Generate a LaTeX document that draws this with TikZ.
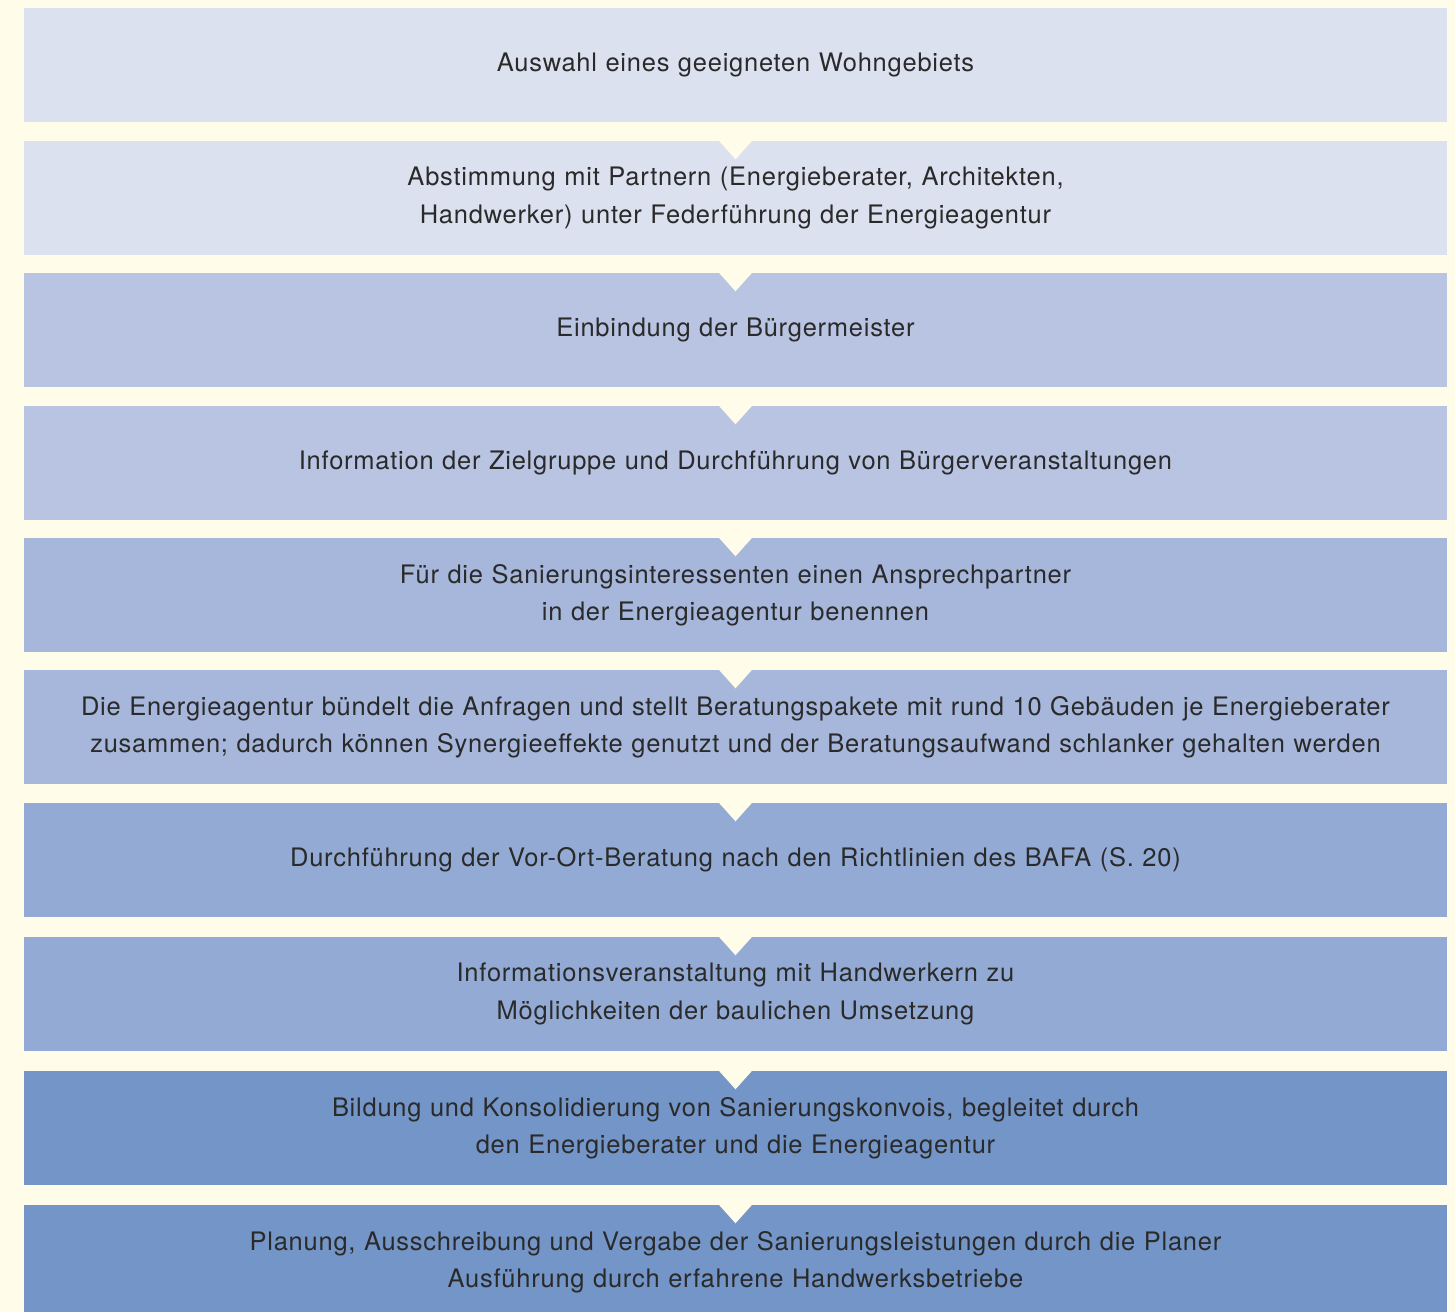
\documentclass[tikz,border=0pt]{standalone}
\usepackage{fontspec}
\setmainfont[LetterSpace=3]{TeX Gyre Heros}
\usetikzlibrary{calc}

\definecolor{bgcream}{HTML}{FFFCEA}
\definecolor{stepA}{HTML}{DCE1EF}
\definecolor{stepB}{HTML}{B8C4E2}
\definecolor{stepC}{HTML}{A6B7DB}
\definecolor{stepD}{HTML}{93ABD4}
\definecolor{stepE}{HTML}{7395C7}
\definecolor{txtgrey}{HTML}{2A2A2A}

\tikzset{
  stepbox/.style={rectangle, minimum width=14.23cm, minimum height=1.14cm,
    inner sep=0pt, text width=14cm, align=center, text=txtgrey,
    font=\fontsize{7.25pt}{10.6pt}\selectfont},
  notch/.style={fill=bgcream}
}

\begin{document}
\begin{tikzpicture}[x=0.1mm, y=-0.1mm]
    \useasboundingbox (0,0) rectangle (1455,1312);
    \fill[bgcream] (0,0) rectangle (1455,1312);
    \begin{scope}
    \clip (0,0) rectangle (1455,1312);
    \node[stepbox, fill=stepA] (b1) at (735.5,65) {Auswahl eines geeigneten Wohngebiets};
    \node[stepbox, fill=stepA] (b2) at (735.5,198) {Abstimmung mit Partnern (Energieberater, Architekten,\\ Handwerker) unter Federführung der Energieagentur};
    \node[stepbox, fill=stepB] (b3) at (735.5,330) {Einbindung der Bürgermeister};
    \node[stepbox, fill=stepB] (b4) at (735.5,463) {Information der Zielgruppe und Durchführung von Bürgerveranstaltungen};
    \node[stepbox, fill=stepC] (b5) at (735.5,595) {Für die Sanierungsinteressenten einen Ansprechpartner\\ in der Energieagentur benennen};
    \node[stepbox, fill=stepC] (b6) at (735.5,727) {Die Energieagentur bündelt die Anfragen und stellt Beratungspakete mit rund 10 Gebäuden je Energieberater\\ zusammen; dadurch können Synergieeffekte genutzt und der Beratungsaufwand schlanker gehalten werden};
    \node[stepbox, fill=stepD] (b7) at (735.5,860) {Durchführung der Vor-Ort-Beratung nach den Richtlinien des BAFA (S.~20)};
    \node[stepbox, fill=stepD] (b8) at (735.5,994) {Informationsveranstaltung mit Handwerkern zu\\ Möglichkeiten der baulichen Umsetzung};
    \node[stepbox, fill=stepE] (b9) at (735.5,1128) {Bildung und Konsolidierung von Sanierungskonvois, begleitet durch\\ den Energieberater und die Energieagentur};
    \node[stepbox, fill=stepE] (b10) at (735.5,1262) {Planung, Ausschreibung und Vergabe der Sanierungsleistungen durch die Planer\\ Ausführung durch erfahrene Handwerksbetriebe};
    \end{scope}
    % notches between the steps
    \foreach \i in {2,...,10}
        \fill[notch] ($(b\i.north)+(-17,0)$) -- ($(b\i.north)+(17,0)$) -- ($(b\i.north)+(0,19)$) -- cycle;
\end{tikzpicture}
\end{document}
